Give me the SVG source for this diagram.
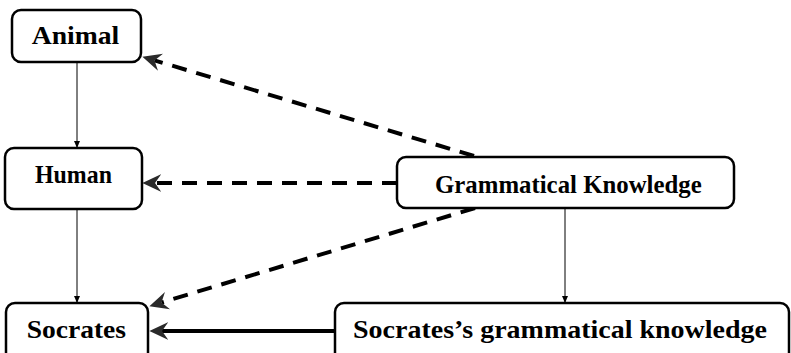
<svg xmlns="http://www.w3.org/2000/svg" width="791" height="353" viewBox="0 0 791 353">
<style>
.box{fill:#fff;stroke:#000;stroke-width:2.5}
.lbl{font-family:"Liberation Serif","Times New Roman",serif;font-weight:bold;font-size:25px;fill:#000}
.thin{stroke:#000;stroke-width:1;fill:none}
.dash{stroke:#000;stroke-width:4;stroke-dasharray:15 10;fill:none}
.solid{stroke:#000;stroke-width:4;fill:none}
</style>
<defs>
<marker id="big" markerUnits="userSpaceOnUse" markerWidth="20" markerHeight="20" viewBox="0 -9 19 18" refX="6" refY="0" orient="auto">
<path d="M0,-8.5 L18,0 L0,8.5 L6,0 Z" fill="#2a2a2a"/>
</marker>
<marker id="small" markerUnits="userSpaceOnUse" markerWidth="8" markerHeight="8" viewBox="0 -4 8 8" refX="7" refY="0" orient="auto">
<path d="M0,-3 L7,0 L0,3 Z" fill="#000"/>
</marker>
</defs>
<g id="connectors">
<line class="thin" x1="77" y1="62" x2="77" y2="148" marker-end="url(#small)"/>
<line class="thin" x1="77" y1="209" x2="77" y2="303" marker-end="url(#small)"/>
<line class="thin" x1="565" y1="208" x2="565" y2="303" marker-end="url(#small)"/>
<line class="dash" x1="474" y1="156" x2="154.5" y2="60.4" marker-end="url(#big)"/>
<line class="dash" x1="397" y1="183" x2="155" y2="183" marker-end="url(#big)"/>
<line class="dash" x1="475" y1="208" x2="161.5" y2="302.5" marker-end="url(#big)"/>
<line class="solid" x1="335" y1="331" x2="162" y2="331" marker-end="url(#big)"/>
</g>
<g id="animal">
<rect class="box" x="12" y="10" width="129" height="52" rx="9"/>
<text class="lbl" x="31.7" y="44.3" textLength="87.6" lengthAdjust="spacingAndGlyphs">Animal</text>
</g>
<g id="human">
<rect class="box" x="5" y="148" width="137" height="61" rx="9"/>
<text class="lbl" x="35" y="183.3" textLength="77" lengthAdjust="spacingAndGlyphs">Human</text>
</g>
<g id="socrates">
<rect class="box" x="6" y="303" width="142" height="60" rx="9"/>
<text class="lbl" x="26.7" y="338" textLength="99.3" lengthAdjust="spacingAndGlyphs">Socrates</text>
</g>
<g id="grammatical-knowledge">
<rect class="box" x="397" y="157" width="337" height="51" rx="9"/>
<text class="lbl" x="435" y="192.5" textLength="266.7" lengthAdjust="spacingAndGlyphs">Grammatical Knowledge</text>
</g>
<g id="socrates-grammatical-knowledge">
<rect class="box" x="335" y="303" width="454" height="60" rx="9"/>
<text class="lbl" x="353" y="337.5" textLength="414" lengthAdjust="spacingAndGlyphs">Socrates’s grammatical knowledge</text>
</g>
</svg>
